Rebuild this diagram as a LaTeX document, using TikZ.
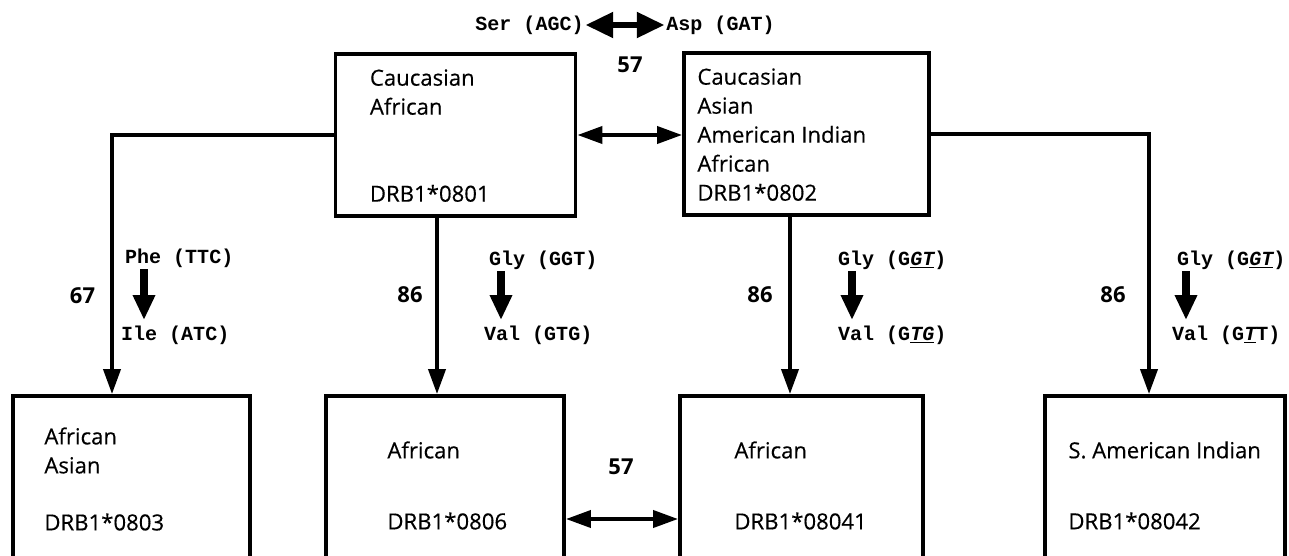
\documentclass[tikz,border=0pt]{standalone}
\usepackage{fontspec}
\setmainfont{Open Sans}
\newfontfamily\popfont{Open Sans}[FakeBold=0.4]
\newfontfamily\codon{Liberation Mono}
\usetikzlibrary{arrows.meta}

\tikzset{
  hlabox/.style={draw, line width=2.2pt, minimum width=4.8cm, minimum height=3.24cm, inner sep=0pt},
  poptext/.style={align=left, inner sep=0pt, anchor=north west, font=\fontsize{12.6}{16.5}\selectfont\popfont},
  num/.style={inner sep=0pt, font=\fontsize{12.5}{15}\selectfont\bfseries},
  aa/.style={inner sep=1pt, anchor=west, font=\fontsize{11.4}{13}\selectfont\codon\bfseries},
  conn/.style={line width=2.2pt, -{Triangle[length=0.5cm,width=0.34cm]}},
  dbl/.style={line width=2.2pt, {Triangle[length=0.5cm,width=0.34cm]}-{Triangle[length=0.5cm,width=0.34cm]}},
  mut/.style={line width=5pt, shorten >=2pt, -{Triangle[length=0.5cm,width=0.42cm]}}
}

\begin{document}
\begin{tikzpicture}
	% Frame
	\useasboundingbox (0,0) rectangle (25.78,11.10);
	\clip (0,0) rectangle (25.78,11.10);
	
	% Top boxes
	\node[hlabox] (b0801) at (9.11,8.40) {};
	\node[hlabox, minimum width=4.9cm] (b0802) at (16.13,8.42) {};
	\node[poptext] (t0801) at ([xshift=0.72cm,yshift=-0.34cm]b0801.north west) {Caucasian\\African\\[1.16cm]DRB1*0801};
	\node[poptext] (t0802) at ([xshift=0.30cm,yshift=-0.34cm]b0802.north west) {Caucasian\\Asian\\American Indian\\African\\DRB1*0802};
	
	% Bottom boxes (cut off by the page)
	\node[hlabox, minimum width=4.74cm, minimum height=3.28cm] (b0803) at (2.63,1.54) {};
	\node[hlabox, minimum width=4.76cm, minimum height=3.44cm] (b0806) at (8.90,1.46) {};
	\node[hlabox, minimum width=4.86cm, minimum height=3.44cm] (b08041) at (16.03,1.46) {};
	\node[hlabox, minimum width=4.80cm, minimum height=3.44cm] (b08042) at (23.30,1.46) {};
	\node[poptext] (t0803) at ([xshift=0.66cm,yshift=-0.66cm]b0803.north west) {African\\Asian\\[0.56cm]DRB1*0803};
	\node[poptext] (t0806) at ([xshift=1.26cm,yshift=-0.94cm]b0806.north west) {African\\[0.84cm]DRB1*0806};
	\node[poptext] (t08041) at ([xshift=1.12cm,yshift=-0.94cm]b08041.north west) {African\\[0.84cm]DRB1*08041};
	\node[poptext] (t08042) at ([xshift=0.50cm,yshift=-0.94cm]b08042.north west) {S. American Indian\\[0.84cm]DRB1*08042};
	
	% x of the long arrows
	\coordinate (xa) at (2.24,0);
	\coordinate (xb) at (8.74,0);
	\coordinate (xc) at (15.80,0);
	\coordinate (xd) at (22.98,0);
	\coordinate (yb) at (0,0.72);
	
	% Long arrows
	\draw[conn] (b0801.west) -| (b0803.north -| xa);
	\draw[conn] (b0801.south -| xb) -- (b0806.north -| xb);
	\draw[conn] (b0802.south -| xc) -- (b08041.north -| xc);
	\draw[conn] (b0802.east) -| (b08042.north -| xd);
	\draw[dbl] (b0801.east) -- (b0801.east -| b0802.west);
	\draw[dbl] (b0806.east |- yb) -- (b08041.west |- yb);
	
	% Positions
	\node[num] (n57a) at (12.60,9.80) {57};
	\node[num] (n57b) at (12.42,1.76) {57};
	\node[num] (n67) at (1.65,5.18) {67};
	\node[num] (n86a) at (8.20,5.20) {86};
	\node[num] (n86b) at (15.20,5.20) {86};
	\node[num] (n86c) at (22.26,5.20) {86};
	
	% Codons
	\node[aa, anchor=center] (ser) at (10.59,10.60) {Ser (AGC)};
	\node[aa, anchor=center] (asp) at (14.41,10.60) {Asp (GAT)};
	\draw[line width=3pt, {Triangle[length=0.55cm,width=0.5cm]}-{Triangle[length=0.55cm,width=0.5cm]}] (ser.east) -- (asp.west);
	
	\node[aa] (phe) at (2.46,5.94) {Phe (TTC)};
	\node[aa] (ile) at (2.38,4.40) {Ile (ATC)};
	\node[aa] (gly1) at (9.74,5.90) {Gly (GGT)};
	\node[aa] (val1) at (9.64,4.40) {Val (GTG)};
	\node[aa] (gly2) at (16.72,5.90) {Gly (G\underline{\itshape GT})};
	\node[aa] (val2) at (16.72,4.40) {Val (G\underline{\itshape TG})};
	\node[aa] (gly3) at (23.50,5.90) {Gly (G\underline{\itshape GT})};
	\node[aa] (val3) at (23.40,4.40) {Val (G\underline{\itshape T}T)};
	
	% Substitution arrows
	\coordinate (m1) at ([xshift=0.42cm]phe.south west);
	\coordinate (m2) at ([xshift=0.28cm]gly1.south west);
	\coordinate (m3) at ([xshift=0.32cm]gly2.south west);
	\coordinate (m4) at ([xshift=0.22cm]gly3.south west);
	\draw[mut] (m1) -- (m1 |- ile.north);
	\draw[mut] (m2) -- (m2 |- val1.north);
	\draw[mut] (m3) -- (m3 |- val2.north);
	\draw[mut] (m4) -- (m4 |- val3.north);
\end{tikzpicture}
\end{document}
